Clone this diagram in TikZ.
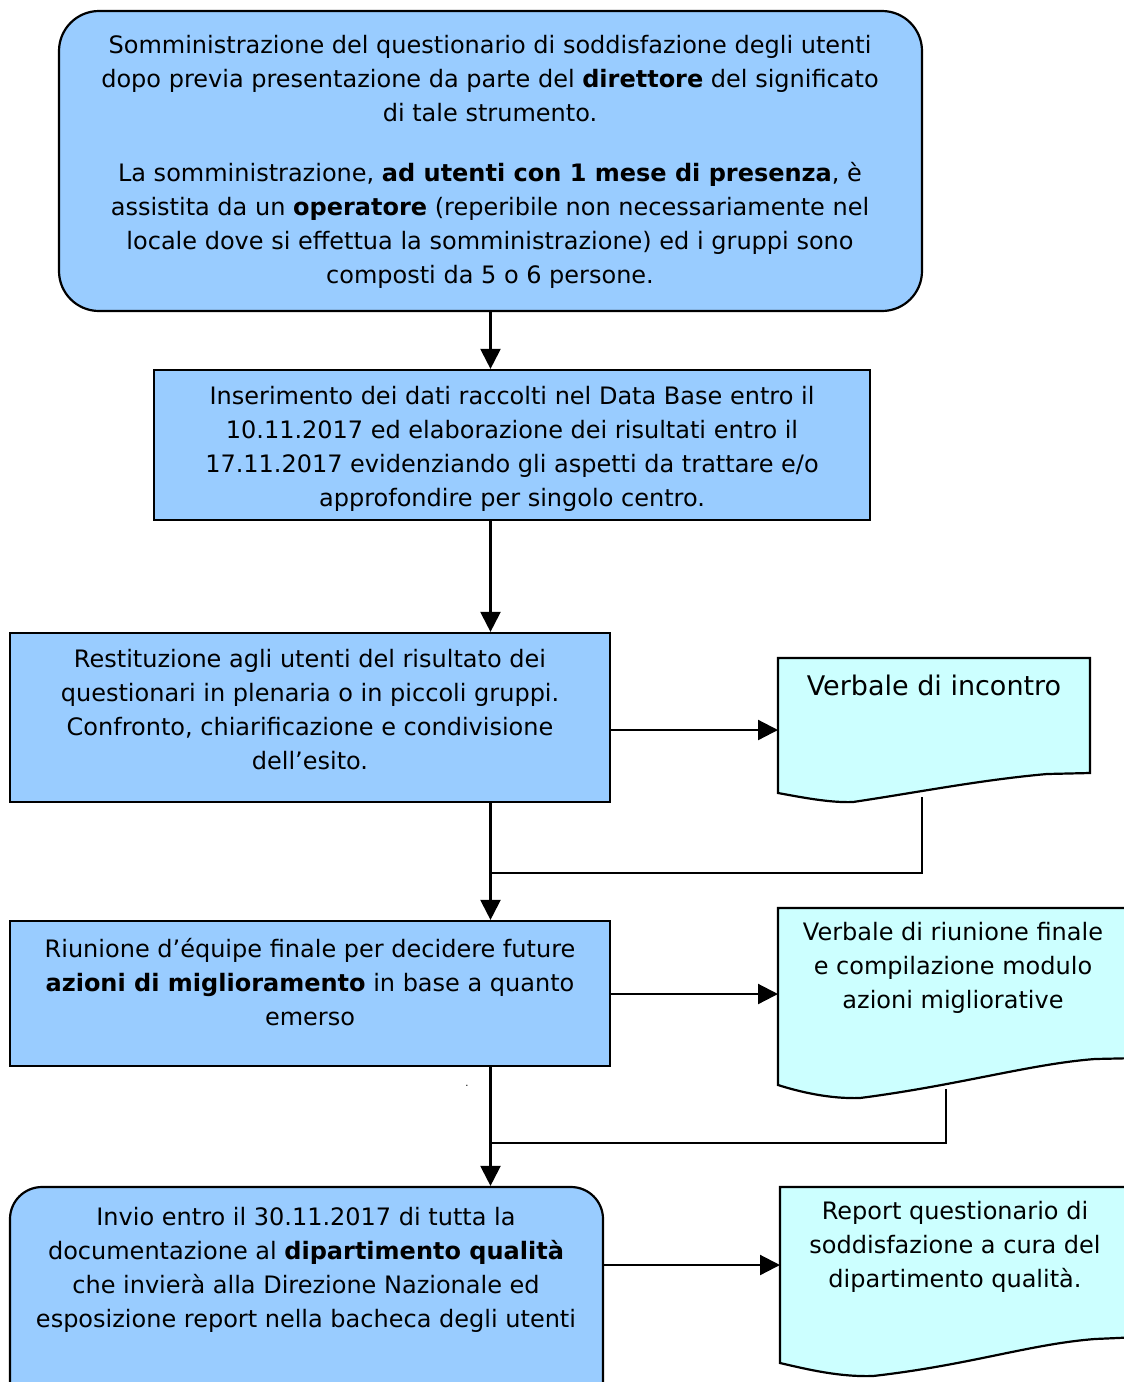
\documentclass[tikz,border=0pt]{standalone}
\usepackage{fontspec}
\setmainfont{DejaVu Sans}
\usetikzlibrary{positioning,arrows.meta,calc}

\definecolor{boxblue}{HTML}{99CCFF}
\definecolor{doccyan}{HTML}{CCFFFF}

\tikzset{
  box/.style={draw=black, fill=boxblue, line width=2.2pt, inner sep=0pt},
  rbox/.style={box, rounded corners=40pt},
  txt/.style={align=center, inner sep=0pt, font=\fontsize{24}{34}\selectfont},
  doc/.style={draw=black, fill=doccyan, line width=2.2pt},
  freccia/.style={-{Triangle[length=20pt,width=20pt]}, line width=2.2pt},
  linea/.style={line width=2.2pt},
}

\begin{document}
\begin{tikzpicture}[x=1pt, y=-1pt]
    \useasboundingbox (0,0) rectangle (1124,1382);
    \clip (0,0) rectangle (1124,1382);

    % the process boxes
    \node[rbox, minimum width=863pt, minimum height=300pt] (sommin) at (490.5,161) {};
    \node[box, minimum width=716pt, minimum height=150pt] (inser) at (512,445) {};
    \node[box, minimum width=600pt, minimum height=169pt] (restit) at (310,717.5) {};
    \node[box, minimum width=600pt, minimum height=145pt] (riun) at (310,993.5) {};
    \node[rbox, rounded corners=32pt, minimum width=593pt, minimum height=230pt] (invio) at (306.5,1302) {};

    % the documents
    \draw[doc] (778,658) -- (1090,658) -- (1090,773) -- (1047,774)
        .. controls (980,780) and (920,792) .. (853,802)
        .. controls (830,803) and (800,797) .. (778,793) -- cycle;
    \draw[doc] (778,908) -- (1140,908) -- (1140,1058) -- (1095,1059)
        .. controls (1030,1064) and (960,1085) .. (860,1098)
        .. controls (830,1099) and (800,1092) .. (778,1085) -- cycle;
    \draw[doc] (780,1187) -- (1140,1187) -- (1140,1337) -- (1095,1339)
        .. controls (1030,1344) and (970,1365) .. (873,1376)
        .. controls (840,1377) and (810,1370) .. (780,1363) -- cycle;

    % the texts
    \node[txt] (somminTxt) at (490,162) {Somministrazione del questionario di soddisfazione degli utenti\\
        dopo previa presentazione da parte del \textbf{direttore} del significato\\
        di tale strumento.\\[26pt]
        La somministrazione, \textbf{ad utenti con 1 mese di presenza}, è\\
        assistita da un \textbf{operatore} (reperibile non necessariamente nel\\
        locale dove si effettua la somministrazione) ed i gruppi sono\\
        composti da 5 o 6 persone.};
    \node[txt] (inserTxt) at (512,449) {Inserimento dei dati raccolti nel Data Base entro il\\
        10.11.2017 ed elaborazione dei risultati entro il\\
        17.11.2017 evidenziando gli aspetti da trattare e/o\\
        approfondire per singolo centro.};
    \node[txt] (restitTxt) at (310,710) {Restituzione agli utenti del risultato dei\\
        questionari in plenaria o in piccoli gruppi.\\
        Confronto, chiarificazione e condivisione\\
        dell’esito.};
    \node[txt] (riunTxt) at (310,982) {Riunione d’équipe finale per decidere future\\
        \textbf{azioni di miglioramento} in base a quanto\\
        emerso};
    \node[txt] (invioTxt) at (306,1270) {Invio entro il 30.11.2017 di tutta la\\
        documentazione al \textbf{dipartimento qualità}\\
        che invierà alla Direzione Nazionale ed\\
        esposizione report nella bacheca degli utenti};
    \node[txt, font=\fontsize{27}{34}\selectfont] (verb1) at (934,685) {Verbale di incontro};
    \node[txt] (verb2) at (953,968) {Verbale di riunione finale\\
        e compilazione modulo\\
        azioni migliorative};
    \node[txt] (report) at (955,1247) {Report questionario di\\
        soddisfazione a cura del\\
        dipartimento qualità.};
    \node[inner sep=0pt, font=\fontsize{10}{10}\selectfont] (punto) at (467,1086) {.};

    % points where the connectors meet the documents
    \coordinate (verb1In) at (778,730);
    \coordinate (verb1Out) at (922,797);
    \coordinate (verb2In) at (778,994);
    \coordinate (verb2Out) at (946,1089);
    \coordinate (reportIn) at (780,1265);
    \coordinate (join1) at (490,873);
    \coordinate (join2) at (490,1143);

    % draw the arrows
    \draw[freccia] (sommin.south) -- (sommin.south |- inser.north);
    \draw[freccia] (sommin.south |- inser.south) -- (sommin.south |- restit.north);
    \draw[freccia] (restit.east |- verb1In) -- (verb1In);
    \draw[freccia] (sommin.south |- restit.south) -- (sommin.south |- riun.north);
    \draw[linea] (verb1Out) |- (join1);
    \draw[freccia] (riun.east |- verb2In) -- (verb2In);
    \draw[freccia] (sommin.south |- riun.south) -- (sommin.south |- invio.north);
    \draw[linea] (verb2Out) |- (join2);
    \draw[freccia] (invio.east |- reportIn) -- (reportIn);

\end{tikzpicture}
\end{document}
